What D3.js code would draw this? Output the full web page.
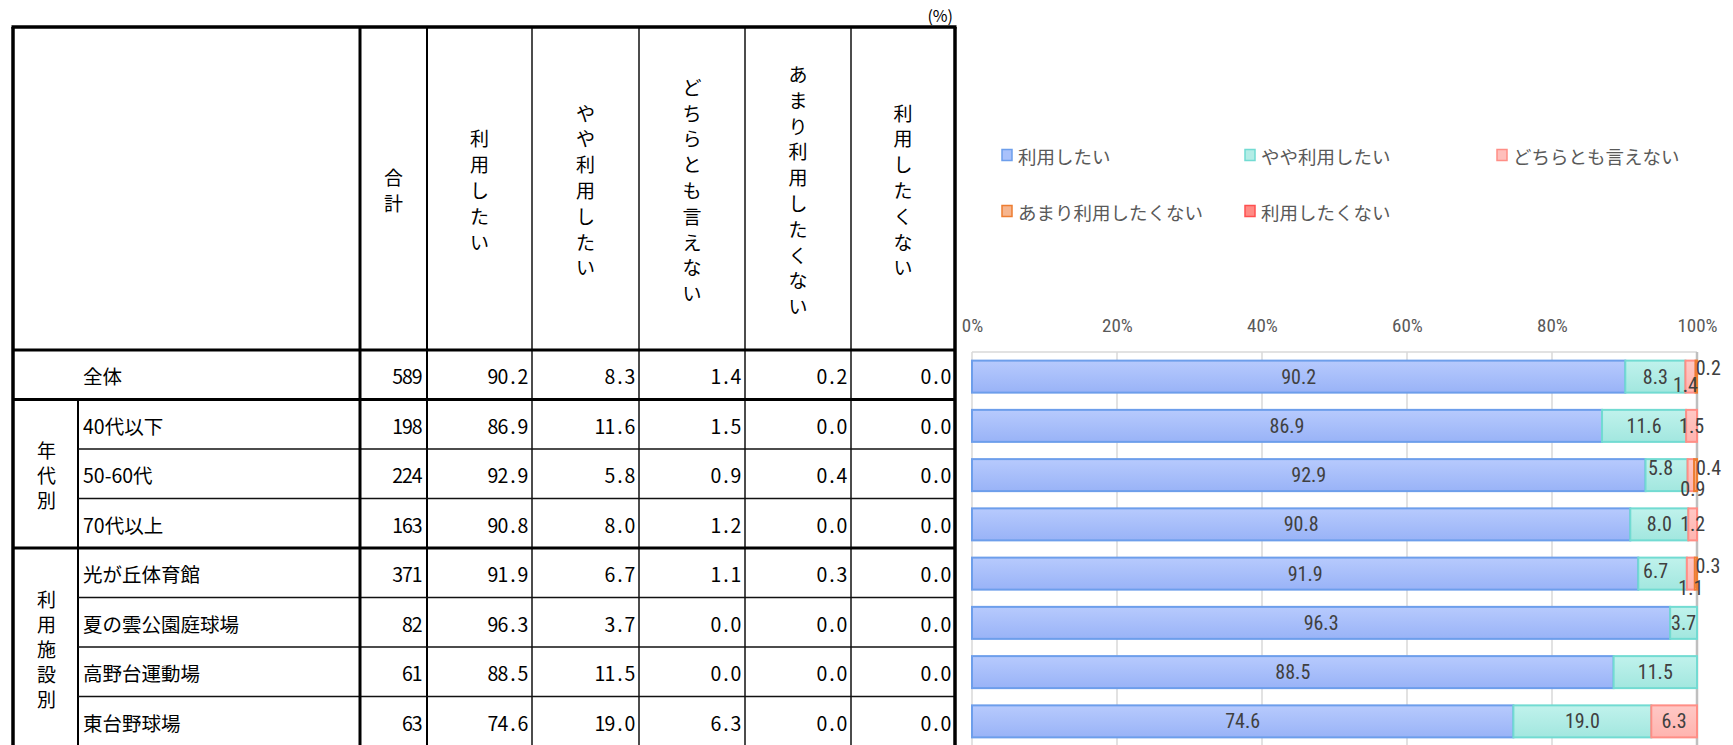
<!DOCTYPE html>
<html><head><meta charset="utf-8">
<script src="https://cdn.jsdelivr.net/npm/d3@7"></script>
<style>body{margin:0;background:#fff;} svg{display:block;}</style>
</head><body><svg id="c" width="1733" height="745"></svg>
<script>
// ---------- data ----------
const categories = ["全体","40代以下","50-60代","70代以上","光が丘体育館","夏の雲公園庭球場","高野台運動場","東台野球場"];
const totals = [589,198,224,163,371,82,61,63];
const seriesNames = ["利用したい","やや利用したい","どちらとも言えない","あまり利用したくない","利用したくない"];
const want         = [90.2,86.9,92.9,90.8,91.9,96.3,88.5,74.6];
const somewhatWant = [8.3,11.6,5.8,8.0,6.7,3.7,11.5,19.0];
const neither      = [1.4,1.5,0.9,1.2,1.1,0.0,0.0,6.3];
const ratherNot    = [0.2,0.0,0.4,0.0,0.3,0.0,0.0,0.0];
const notWant      = [0.0,0.0,0.0,0.0,0.0,0.0,0.0,0.0];
const groupNames = ["年代別","利用施設別"];
const groupRows  = [[1,3],[4,7]];
const totalHeader = "合計";
const unitLabel = "(%)";
const tickValues = [0,0.2,0.4,0.6,0.8,1];
const tickLabels = ["0%","20%","40%","60%","80%","100%"];

// ---------- styles ----------
const JP = "'Noto Sans CJK JP','Noto Sans CJK SC',sans-serif";
const NUM = "'Liberation Sans Narrow','Roboto Condensed','Liberation Sans',sans-serif";
const fills = [["#b7cafd","#99b3f7"],["#c0f2ec","#a2e7df"],["#ffc8c5","#ffb4af"],["#f8c09c","#f2a577"],["#ff9a94","#ff807a"]];
const strokes = ["#6d9eeb","#72dbd2","#ff8e86","#ed7d31","#ff5050"];
const legendFill = ["#a9c1fb","#b3ede6","#ffbfbb","#f6b58e","#ff8b85"];

const svg = d3.select("#c");
const seriesValues = [want, somewhatWant, neither, ratherNot, notWant];
const rows = categories.map((c,i)=>{const o={category:c,total:totals[i],idx:i};seriesNames.forEach((s,k)=>o[s]=seriesValues[k][i]);return o;});

// ---------- table ----------
const colX=[13,78,360,427,532,639,745,851,955];
const tTop=27, hBot=350, tBot=746;
const rowBand = d3.scaleBand().domain(categories).range([hBot,tBot]);
const T = svg.append("g").attr("font-family",JP).attr("fill","#000");
const L = svg.append("g").attr("stroke","#000").attr("fill","none");
function line(x1,y1,x2,y2,w,c){L.append("line").attr("x1",x1).attr("y1",y1).attr("x2",x2).attr("y2",y2).attr("stroke-width",w).attr("stroke",c||"#000");}
[4,5,6,7].forEach(k=>line(colX[k],tTop,colX[k],tBot,1.5,"#111"));
line(colX[3],tTop,colX[3],tBot,2);
line(colX[1],rowBand(categories[1]),colX[1],tBot,2);
categories.forEach((c,i)=>{ if(i>1 && i!==4) line(colX[1],rowBand(c),colX[8],rowBand(c),1.5,"#111"); });
line(colX[2],tTop,colX[2],tBot,3);
[hBot,rowBand(categories[1]),rowBand(categories[4])].forEach(yv=>line(colX[0],yv,colX[8],yv,3.2));
line(colX[0]-1.5,tTop,colX[8]+1.5,tTop,3.5);
line(colX[0],tTop,colX[0],tBot,3.5);
line(colX[8],tTop,colX[8],tBot,3.5);

function vtext(str,cx,cy,size,gap){
  const ch=[...str], n=ch.length;
  T.append("text").attr("font-size",size).attr("text-anchor","middle").attr("dominant-baseline","central")
   .attr("x",ch.map(()=>cx).join(" ")).attr("y",ch.map((_,i)=>cy+(i-(n-1)/2)*gap).join(" ")).text(str);
}
function fixedNum(str,xr,cy,adv){
  const ch=[...str], n=ch.length;
  T.append("text").attr("font-size",19.5).attr("text-anchor","middle").attr("dominant-baseline","central")
   .attr("x",ch.map((_,i)=>xr-adv*(n-i-0.5)).join(" ")).attr("y",cy).text(str);
}
const hc=(tTop+hBot)/2+1;
[totalHeader,...seriesNames].forEach((h,k)=>vtext(h,(colX[k+2]+colX[k+3])/2,hc,19,25.8));
T.append("text").attr("x",953).attr("y",15).attr("font-size",16).attr("text-anchor","end").attr("dominant-baseline","central").text(unitLabel);
const rh=rowBand.bandwidth();
rows.forEach((r,i)=>{
  const cy=rowBand(r.category)+rh/2+1;
  T.append("text").attr("x",83).attr("y",cy).attr("font-size",19.5).attr("dominant-baseline","central").text(r.category);
  fixedNum(String(r.total),colX[3]-5,cy,9.7);
  seriesNames.forEach((s,k)=>fixedNum(r[s].toFixed(1),colX[k+4]-4,cy,10));
});
groupNames.forEach((g,k)=>{
  const y0=rowBand(categories[groupRows[k][0]]), y1=rowBand(categories[groupRows[k][1]])+rh;
  vtext(g,(colX[0]+colX[1])/2+1,(y0+y1)/2+1,19,25);
});

// ---------- chart ----------
const x = d3.scaleLinear().domain([0,1]).range([972,1697]);
const y = d3.scaleBand().domain(categories).range([352,746]).paddingInner(0.35).paddingOuter(0.175);
const G = svg.append("g");
G.append("line").attr("x1",x(0)).attr("x2",x(1)).attr("y1",352).attr("y2",352).attr("stroke","#d9d9d9").attr("stroke-width",1.5);
tickValues.forEach(t=>G.append("line").attr("x1",x(t)).attr("x2",x(t)).attr("y1",352).attr("y2",746)
  .attr("stroke",t===1?"#bfbfbf":"#d9d9d9").attr("stroke-width",t===1?2.5:1.5));
const ax = G.append("g").attr("transform","translate(0,325)")
  .call(d3.axisTop(x).tickValues(tickValues).tickFormat((d,i)=>tickLabels[i]).tickSize(0).tickPadding(0));
ax.select(".domain").remove();
ax.selectAll("text").attr("font-family",NUM).attr("font-size",19).attr("fill","#595959").attr("dy",null).attr("y",0).attr("dominant-baseline","central");

const defs = svg.append("defs");
fills.forEach((f,k)=>{
  const lg=defs.append("linearGradient").attr("id","g"+k).attr("x1",0).attr("y1",0).attr("x2",0).attr("y2",1);
  lg.append("stop").attr("offset","0%").attr("stop-color",f[0]);
  lg.append("stop").attr("offset","100%").attr("stop-color",f[1]);
});
const stack = d3.stack().keys(seriesNames).offset(d3.stackOffsetExpand);
const stacked = stack(rows);
const bars = G.append("g");
stacked.forEach((s,k)=>{
  bars.append("g").selectAll("rect").data(s.filter(d=>d.data[seriesNames[k]]>0)).join("rect")
    .attr("x",d=>x(d[0])).attr("width",d=>Math.max(0,x(d[1])-x(d[0])))
    .attr("y",d=>y(d.data.category)).attr("height",y.bandwidth())
    .attr("fill","url(#g"+k+")").attr("stroke",strokes[k]).attr("stroke-width",2);
});
const labelNudge = {"0|2":[-5,8],"0|3":[12,-9],"2|1":[-6,-7],"2|2":[2,14],"2|3":[13,-7],"4|1":[-7,-3],"4|2":[0,14],"4|3":[12,-8]};
const labs = G.append("g").attr("font-family",NUM).attr("font-size",20).attr("fill","#404040").attr("text-anchor","middle").attr("dominant-baseline","central");
stacked.forEach((s,k)=>{
  s.forEach(d=>{
    const v=d.data[seriesNames[k]]; if(!(v>0)) return;
    const nd=labelNudge[d.data.idx+"|"+k]||[0,0];
    labs.append("text").attr("x",(x(d[0])+x(d[1]))/2+nd[0]).attr("y",y(d.data.category)+y.bandwidth()/2+nd[1]).text(v.toFixed(1));
  });
});

// ---------- legend ----------
const legCols=[1002,1245,1497], legRows=[155,211];
const LG = svg.append("g").attr("font-family",JP).attr("font-size",18.5).attr("fill","#595959");
seriesNames.forEach((s,k)=>{
  const lx=legCols[k%3], ly=legRows[Math.floor(k/3)];
  LG.append("rect").attr("x",lx).attr("y",ly-5.5).attr("width",10).attr("height",11).attr("fill",legendFill[k]).attr("stroke",strokes[k]).attr("stroke-width",1.5);
  LG.append("text").attr("x",lx+16).attr("y",ly+1).attr("dominant-baseline","central").text(s);
});
</script></body></html>
